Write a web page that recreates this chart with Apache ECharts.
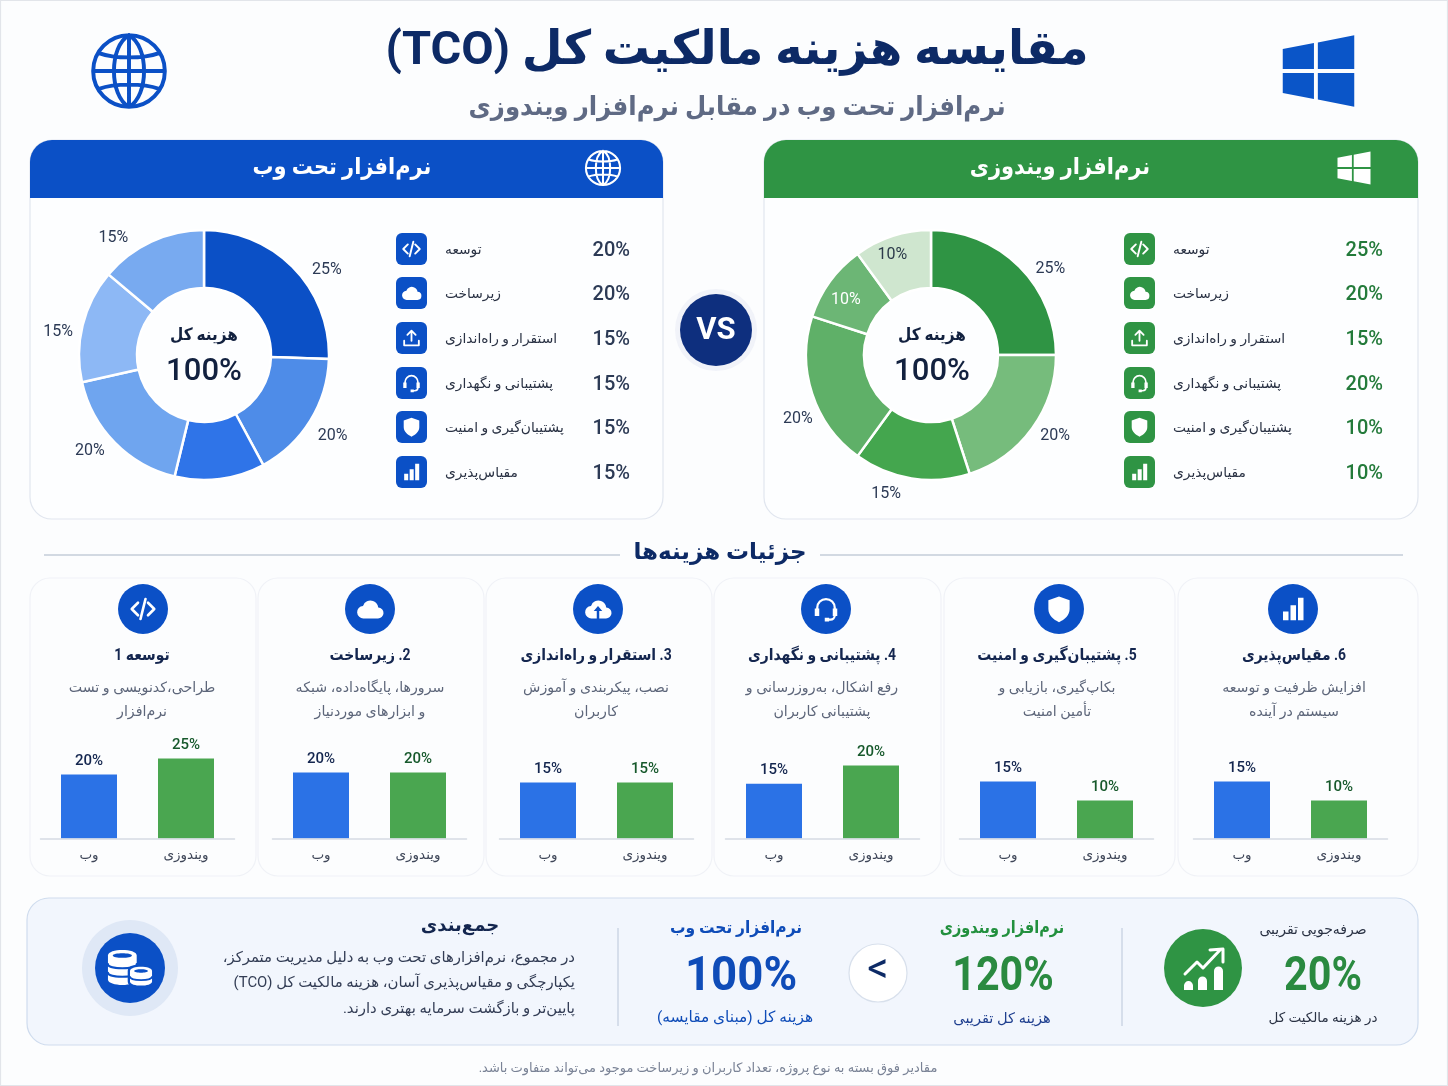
<!DOCTYPE html>
<html dir="rtl">
<head>
	<title>TCO</title>
	<meta charset="utf-8">
	<script src="https://cdn.jsdelivr.net/npm/echarts@6/dist/echarts.min.js"></script>
	<style>
		html, body { margin: 0; padding: 0; background: #fff; }
		#main { width: 1448px; height: 1086px; }
	</style>
</head>
<body>
<div id="main"></div>
<script>
// data
var categories = ['توسعه', 'زیرساخت', 'استقرار و راه\u200cاندازی', 'پشتیبانی و نگهداری', 'پشتیبان\u200cگیری و امنیت', 'مقیاس\u200cپذیری'];
var webValues = [20, 20, 15, 15, 15, 15];
var winValues = [25, 20, 15, 20, 10, 10];
// the web donut is not drawn to its printed numbers, so slices are read from the angles
var webSlices = [25.6, 16.7, 11.7, 17.8, 14.7, 13.9];
var webSliceLabels = ['25%', '20%', '', '20%', '15%', '15%'];
var winSlices = [25, 20, 15, 20, 10, 10];
var winSliceLabels = ['25%', '20%', '15%', '20%', '10%', '10%'];
var barCategories = ['وب', 'ویندوزی'];
var cardTitles = ['توسعه 1', '2. زیرساخت', '3. استقرار و راه\u200cاندازی', '4. پشتیبانی و نگهداری', '5. پشتیبان\u200cگیری و امنیت', '6. مقیاس\u200cپذیری'];
var cardLines1 = ['طراحی،کدنویسی و تست', 'سرورها، پایگاه\u200cداده، شبکه', 'نصب، پیکربندی و آموزش', 'رفع اشکال، به\u200cروزرسانی و', 'بکاپ\u200cگیری، بازیابی و', 'افزایش ظرفیت و توسعه'];
var cardLines2 = ['نرم\u200cافزار', 'و ابزارهای موردنیاز', 'کاربران', 'پشتیبانی کاربران', 'تأمین امنیت', 'سیستم در آینده'];
var summaryLines = ['در مجموع، نرم\u200cافزارهای تحت وب به دلیل مدیریت متمرکز،', 'یکپارچگی و مقیاس\u200cپذیری آسان، هزینه مالکیت کل (TCO)', 'پایین\u200cتر و بازگشت سرمایه بهتری دارند.'];

var FONT = 'Roboto, "DejaVu Sans", sans-serif';
var NAVY = '#0d2a66', BLUE = '#0b50c6', GREEN = '#2f9444';

// icons on a 24x24 box
var iconPaths = {
	icGlobe: 'M2 12a10 10 0 1 0 20 0a10 10 0 1 0 -20 0M12 2c-5.6 3 -5.6 17 0 20c5.6 -3 5.6 -17 0 -20M12 2V22M2 12H22M3.6 7C8 8.6 16 8.6 20.4 7M3.6 17C8 15.4 16 15.4 20.4 17',
	icWin: 'M1 5.2L10.6 3.4V11.4H1ZM11.8 3.2L23 1V11.4H11.8ZM1 12.6H10.6V20.6L1 18.8ZM11.8 12.6H23V23L11.8 20.8Z',
	icCode: 'M8 7L3 12L8 17M16 7L21 12L16 17M14 4L10 20',
	icCloud: 'M7 19.5a5 5 0 0 1 -0.6 -10a6.3 6.3 0 0 1 12.2 1.2a4.4 4.4 0 0 1 -0.4 8.8Z',
	icUpload: 'M12 15V4M7.5 8.5L12 4L16.5 8.5M4 15V20H20V15',
	icHead: 'M5 14V11a7 7 0 0 1 14 0V14M19 17a3.5 3.5 0 0 1 -3.5 3.5H13',
	icHeadFill: 'M3 11.5h3.6v6H3ZM17.4 11.5h3.6v6h-3.6ZM11 19h3.5v3H11Z',
	icShield: 'M12 2L20.5 5V12C20.5 17 16.5 20.5 12 22.5C7.5 20.5 3.5 17 3.5 12V5Z',
	icBars: 'M4 14h4.4v7H4ZM10 9h4.4v12H10ZM16 3h4.4v18H16Z',
	icCloudUp: 'M7 19.5a5 5 0 0 1 -0.6 -10a6.3 6.3 0 0 1 12.2 1.2a4.4 4.4 0 0 1 -0.4 8.8H13V13.5H15.4L12 9.5L8.6 13.5H11V19.5Z',
	icDbBig: 'M0.5 5.5c0 -3.8 15 -3.8 15 0v12.5c0 3.8 -15 3.8 -15 0Z',
	icDbTop: 'M3 5.5c0 -1.6 10 -1.6 10 0c0 1.6 -10 1.6 -10 0Z',
	icDbLines: 'M0.5 10c0 2.8 15 2.8 15 0M0.5 14.5c0 2.8 15 2.8 15 0',
	icDbSmall: 'M12 13.5c0 -2.9 11.5 -2.9 11.5 0v5.5c0 2.9 -11.5 2.9 -11.5 0Z',
	icDbSmallTop: 'M14.2 13.6c0 -1.2 7.1 -1.2 7.1 0c0 1.2 -7.1 1.2 -7.1 0Z',
	icDbSmallLine: 'M12 16.6c0 2.3 11.5 2.3 11.5 0',
	icTrend: 'M3 15.5L9 9.5L12 12.5L20.5 3.5M15.5 3.5L22 3V9.5',
	icTrendFill: 'M2.5 23.5v-2.2a2.2 2.2 0 0 1 4.5 0v2.2ZM9.5 23.5V19a2.2 2.2 0 0 1 4.5 0v4.5ZM17.5 23.5V14a2.2 2.2 0 0 1 4.5 0v9.5Z'
};
for (var k in iconPaths) {
	echarts.graphic.registerShape(k, echarts.graphic.extendPath(iconPaths[k], {}));
}

var g = [];
// sx squeezes the text sideways, DejaVu is wider than the face in the picture
function txt(x, y, s, size, color, weight, align, sx) {
	g.push({
		type: 'text', x: x, y: y + 1, scaleX: sx || 1, silent: true, z: 5,
		style: {
			text: s, fill: color, font: (weight || 'normal') + ' ' + size + 'px ' + FONT,
			align: align || 'center', textAlign: align || 'center', verticalAlign: 'middle', textVerticalAlign: 'middle'
		}
	});
}
function box(x, y, w, h, r, fill, stroke) {
	g.push({ type: 'rect', silent: true, z: -2, shape: { x: x, y: y, width: w, height: h, r: r }, style: { fill: fill, stroke: stroke || null, lineWidth: stroke ? 1.2 : 0 } });
}
function circ(x, y, r, fill, stroke) {
	g.push({ type: 'circle', silent: true, z: 2, shape: { cx: x, cy: y, r: r }, style: { fill: fill, stroke: stroke || null, lineWidth: stroke ? 1.2 : 0 } });
}
function rule(x1, y1, x2, y2, color, w) {
	g.push({ type: 'line', silent: true, z: 1, shape: { x1: x1, y1: y1, x2: x2, y2: y2 }, style: { stroke: color, lineWidth: w || 1.5 } });
}
function icon(name, cx, cy, size, color, lw) {
	var s = size / 24;
	g.push({
		type: name, silent: true, z: 4, x: cx - size / 2, y: cy - size / 2, scaleX: s, scaleY: s,
		style: lw ? { fill: 'none', stroke: color, lineWidth: lw, lineCap: 'round', lineJoin: 'round' } : { fill: color }
	});
}
// one of the six symbols
function symbol(i, cx, cy, size, color, big) {
	if (i == 0) icon('icCode', cx, cy, size, color, 2.1);
	if (i == 1) icon('icCloud', cx, cy, size, color);
	if (i == 2) {
		if (big) icon('icCloudUp', cx, cy, size, color);
		else icon('icUpload', cx, cy, size, color, 2);
	}
	if (i == 3) {
		icon('icHead', cx, cy, size, color, 1.8);
		icon('icHeadFill', cx, cy, size, color);
	}
	if (i == 4) icon('icShield', cx, cy, size, color);
	if (i == 5) icon('icBars', cx, cy, size, color);
}

// page
box(0.5, 0.5, 1447, 1085, 0, '#fcfdfe', '#e2e5ea');

// heading
txt(737, 51, 'مقایسه هزینه مالکیت کل (TCO)', 47, NAVY, 'bold');
txt(737, 107, 'نرم\u200cافزار تحت وب در مقابل نرم\u200cافزار ویندوزی', 26, '#5f6a84', 'bold', 'center', 0.94);
icon('icGlobe', 129, 71, 86, BLUE, 1.1);
icon('icWin', 1318.5, 71, 78, '#0a55c8');

// the two panels
function panel(x, w, color, title, titleX, iconName, iconX, iconSize, values, pctColor, rowIconX, center, lw) {
	box(x, 140, w, 379, 22, '#fdfeff', '#e1e6ef');
	box(x, 140, w, 58, [22, 22, 0, 0], color);
	txt(titleX, 167, title, 23, '#fff', 'bold', 'center', 0.91);
	icon(iconName, iconX, 168, iconSize, '#fff', lw);
	txt(center, 335, 'هزینه کل', 17, '#12213f', 'bold', 'center', 0.9);
	txt(center, 371, '100%', 32, '#12213f', '500', 'center', 0.97);
	var rows = [250, 294, 339, 384, 428, 473];
	for (var i = 0; i < 6; i++) {
		box(rowIconX, rows[i] - 17, 31, 32, 6, color);
		symbol(i, rowIconX + 15.5, rows[i] - 1, 22, '#fff');
		txt(rowIconX + 49, rows[i], categories[i], 13.8, '#2a3244', 'normal', 'left');
		txt(x + w - (x < 100 ? 33 : 35), rows[i], values[i] + '%', 20, pctColor, '500', 'right');
	}
}
panel(30, 633, BLUE, 'نرم\u200cافزار تحت وب', 342, 'icGlobe', 603, 41, webValues, '#2c3a55', 396, 204, 1.2);
panel(764, 654, GREEN, 'نرم\u200cافزار ویندوزی', 1060, 'icWin', 1354, 36, winValues, '#237a3a', 1124, 932);

// VS badge
circ(716, 330, 41, '#f1f3f9');
circ(716, 330, 36, '#0e2f7e');
txt(716, 330, 'VS', 31, '#fff', 'bold');

// section heading
txt(720, 552, 'جزئیات هزینه\u200cها', 23, NAVY, 'bold');
rule(44, 555, 620, 555, '#c5ccd8');
rule(820, 555, 1403, 555, '#c5ccd8');

// cost cards
var cardX = [30, 258, 486, 714, 944, 1178];
var cardW = [226, 226, 226, 227, 231, 240];
var iconX = [143, 370, 598, 826, 1059, 1293];
var textX = [142, 370, 596, 822, 1057, 1294];
var axisX = [40.5, 272.5, 499.5, 725.5, 959.5, 1193.5];
var axisMax = [37.5, 36.4, 32.2, 32.9, 31.6, 31.6];
var grids = [], xAxes = [], yAxes = [], series = [];
for (var c = 0; c < 6; c++) {
	box(cardX[c], 578, cardW[c], 298, 20, '#fcfdfe', '#f0f2f7');
	circ(iconX[c], 609, 25, BLUE);
	symbol(c, iconX[c], 609, 30, '#fff', true);
	txt(textX[c], 655, cardTitles[c], 16, '#14264f', 'bold', 'center', 0.87);
	txt(textX[c], 687, cardLines1[c], 14.2, '#5d667a');
	txt(textX[c], 711, cardLines2[c], 14.2, '#5d667a');

	grids.push({ left: axisX[c], width: 194, top: 718.5, height: 120 });
	xAxes.push({
		type: 'category', gridIndex: c, data: barCategories, z: 3,
		axisLine: { lineStyle: { color: '#d5dae3', width: 1.5 } }, axisTick: { show: false },
		axisLabel: { color: '#3f4759', fontSize: 13.5, fontFamily: FONT, margin: 10 }
	});
	yAxes.push({ type: 'value', gridIndex: c, min: 0, max: axisMax[c], show: false });
	series.push({
		type: 'bar', xAxisIndex: c, yAxisIndex: c, barWidth: 56, silent: true,
		label: { show: true, position: 'top', distance: 6, formatter: '{c}%', fontSize: 15, fontWeight: 500, fontFamily: FONT },
		data: [
			{ value: webValues[c], itemStyle: { color: '#2b72e6' }, label: { color: '#14264f' } },
			{ value: winValues[c], itemStyle: { color: '#4aa650' }, label: { color: '#17592c' } }
		]
	});
}

// donuts
function donut(cx, slices, labels, colors, insideAt, nudge) {
	var data = slices.map(function (v, i) {
		var item = { value: v, name: labels[i], itemStyle: { color: colors[i] } };
		if (insideAt[i]) item.label = { position: 'inside', color: insideAt[i] };
		return item;
	});
	return {
		type: 'pie', center: [cx, 355], radius: [67, 125], startAngle: 90, silent: true,
		avoidLabelOverlap: false,
		itemStyle: { borderColor: '#fff', borderWidth: 2.5 },
		label: { show: true, formatter: '{b}', fontSize: 16, color: '#2c3a55', fontFamily: FONT, distanceToLabelLine: 0 },
		labelLine: { show: false, length: 10, length2: 0 },
		// the printed labels do not sit on the slice middles
		labelLayout: function (p) {
			return { dx: nudge[p.dataIndex][0], dy: nudge[p.dataIndex][1] };
		},
		data: data
	};
}
series.push(donut(204, webSlices, webSliceLabels, ['#0b50c6', '#4e8ce8', '#2f74e8', '#6fa5ef', '#8db8f5', '#78aaf0'], {},
	[[11, 9], [-1, 10], [0, 0], [-3, 1], [0, 9], [-19, 5]]));
series.push(donut(931, winSlices, winSliceLabels, ['#2f9444', '#76bc7c', '#44a64e', '#5fb068', '#6cb675', '#cfe6cf'], { 4: '#ffffff', 5: '#2c3a4a' },
	[[9, 9], [0, 2], [-9, 6], [10, 22], [-5, 3], [-8, -6]]));

// summary strip
box(27, 898, 1391, 147, 22, '#f2f6fd', '#cfdcee');
rule(1122, 928, 1122, 1026, '#cdd6e4');
rule(618, 928, 618, 1026, '#cdd6e4');
circ(1203, 968, 39, GREEN);
icon('icTrend', 1203, 967, 48, '#fff', 1.5);
icon('icTrendFill', 1203, 967, 48, '#fff');
txt(1313, 929, 'صرفه\u200cجویی تقریبی', 14, '#2a3244');
txt(1323, 977, '20%', 48, '#2a8a40', 'bold', 'center', 0.86);
txt(1323, 1018, 'در هزینه مالکیت کل', 13.5, '#2a3244');
txt(1002, 928, 'نرم\u200cافزار ویندوزی', 17, '#22903e', 'bold', 'center', 0.85);
txt(1003, 977, '120%', 48, '#2a8a40', 'bold', 'center', 0.86);
txt(1002, 1018, 'هزینه کل تقریبی', 14.6, '#1f3f8f');
circ(878, 973, 29, '#fff', '#d8e0ec');
txt(878, 970, '\u200E<\u200E', 42, NAVY, 'normal');
txt(736, 928, 'نرم\u200cافزار تحت وب', 17, '#0f4cb8', 'bold', 'center', 0.91);
txt(741, 977, '100%', 48, '#0f4cb8', 'bold', 'center', 0.95);
txt(735, 1017, 'هزینه کل (مبنای مقایسه)', 15.4, '#0f4cb8');
txt(460, 925, 'جمع\u200cبندی', 18, '#14264f', 'bold');
for (var l = 0; l < summaryLines.length; l++) {
	txt(575, [957, 982, 1008][l], summaryLines[l], 14.9, '#333d55', 'normal', 'right');
}
circ(130, 968, 48, '#dfe8f6');
circ(130, 968, 35, BLUE);
icon('icDbBig', 130, 968, 46, '#fff');
icon('icDbTop', 130, 968, 46, BLUE);
icon('icDbLines', 130, 968, 46, BLUE, 1.1);
icon('icDbSmall', 130, 968, 46, BLUE, 2.4);
icon('icDbSmall', 130, 968, 46, '#fff');
icon('icDbSmallTop', 130, 968, 46, BLUE);
icon('icDbSmallLine', 130, 968, 46, BLUE, 0.9);

txt(708, 1068, 'مقادیر فوق بسته به نوع پروژه، تعداد کاربران و زیرساخت موجود می\u200cتواند متفاوت باشد.', 13, '#7a8396');

var myChart = echarts.init(document.getElementById('main'));
myChart.setOption({
	animation: false,
	backgroundColor: '#fff',
	tooltip: { show: false },
	graphic: { elements: g },
	grid: grids,
	xAxis: xAxes,
	yAxis: yAxes,
	series: series
});
</script>
</body>
</html>
